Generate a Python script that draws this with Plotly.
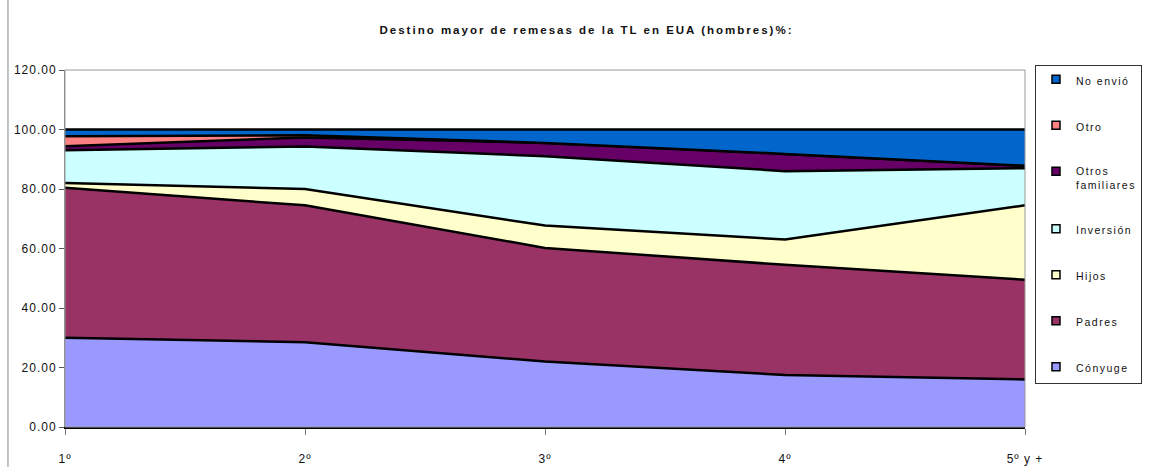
import plotly.graph_objects as go

# Survey wave / remittance period on the x axis
periods = [1, 2, 3, 4, 5]
period_labels = ["1º", "2º", "3º", "4º", "5º y +"]

# Share (%) of main remittance destination, stacked bottom to top
conyuge = [30.0, 28.5, 22.0, 17.5, 16.0]
padres = [50.4, 46.0, 38.2, 37.0, 33.5]
hijos = [1.6, 5.5, 7.5, 8.5, 25.0]
inversion = [11.0, 14.3, 23.3, 23.0, 12.5]
otros_familiares = [1.4, 3.0, 4.5, 5.8, 0.8]
otro = [3.3, 0.8, 0.0, 0.0, 0.0]
no_envio = [2.3, 1.9, 4.5, 8.2, 12.2]

y_ticks = [0, 20, 40, 60, 80, 100, 120]

series = [
    ("Cónyuge", conyuge, "#9999FF"),
    ("Padres", padres, "#993366"),
    ("Hijos", hijos, "#FFFFCC"),
    ("Inversión", inversion, "#CCFFFF"),
    ("Otros<br>familiares", otros_familiares, "#660066"),
    ("Otro", otro, "#FF8080"),
    ("No envió", no_envio, "#0066CC"),
]

FONT = "Liberation Sans, Arial, sans-serif"

fig = go.Figure()
n = len(series)
for i, (name, values, color) in enumerate(series):
    # stacked band
    fig.add_trace(go.Scatter(
        x=periods, y=values, name=name, mode="lines",
        stackgroup="one", fillcolor=color,
        line=dict(color="black", width=2.5),
        showlegend=False, hoverinfo="x+y+name",
    ))
    # legend key: small square swatch with black outline
    fig.add_trace(go.Scatter(
        x=[None], y=[None], name=name, mode="markers",
        marker=dict(symbol="square", size=8, color=color,
                    line=dict(color="black", width=1.5)),
        legendgroup=name, legendrank=n - i, showlegend=True,
    ))

fig.update_layout(
    width=1150, height=467,
    margin=dict(l=65, r=125, t=70, b=40, autoexpand=False),
    paper_bgcolor="white", plot_bgcolor="white",
    font=dict(family=FONT, color="#111111"),
    title=dict(
        text="<b>Destino mayor de remesas de la TL en EUA (hombres)%:</b>",
        x=0.51, xref="container", xanchor="center",
        y=0.935, yref="container", yanchor="middle",
        font=dict(size=11.5, family=FONT, color="#111111"),
    ),
    showlegend=True,
    legend=dict(
        x=1.0104, xanchor="left", y=1.014, yanchor="top",
        traceorder="grouped", tracegroupgap=27, maxheight=440,
        bordercolor="#333333", borderwidth=1, bgcolor="white",
        font=dict(size=10.4, family=FONT, color="#111111"),
        valign="top", itemwidth=30,
    ),
    xaxis=dict(
        range=[1, 5], tickvals=periods, ticktext=period_labels,
        showline=True, linecolor="black", linewidth=2,
        ticks="outside", ticklen=6, tickcolor="#777777",
        showgrid=False, zeroline=False, automargin=False,
        tickfont=dict(size=12, family=FONT, color="#111111"),
        ticklabelstandoff=14,
    ),
    yaxis=dict(
        range=[0, 120], tickvals=y_ticks, tickformat=".2f",
        showline=True, linecolor="#888888", linewidth=1,
        ticks="outside", ticklen=5, tickcolor="#555555",
        showgrid=False, zeroline=False, automargin=False,
        tickfont=dict(size=12, family=FONT, color="#111111"),
    ),
    shapes=[
        # grey frame around the plotting area
        dict(type="rect", xref="paper", yref="paper", x0=0, x1=1, y0=0, y1=1,
             line=dict(color="#999999", width=1), fillcolor="rgba(0,0,0,0)",
             layer="above"),
        # outer chart frame (left edge)
        dict(type="line", xref="paper", yref="paper", x0=-0.0594, x1=-0.0594,
             y0=-0.2, y1=1.3, line=dict(color="#888888", width=1)),
    ],
)

# Widen letter spacing of all chart text; re-apply the legend font so the
# legend box is re-measured with the wider text
post = """
var gd = document.getElementById('{plot_id}');
var st = document.createElement('style');
st.textContent = 'text{letter-spacing:1px} text.gtitle{letter-spacing:2px} text.legendtext{letter-spacing:1.5px}';
document.head.appendChild(st);
return Plotly.relayout(gd, {'legend.font.size': 10.5});
"""

fig.write_html("out.html", post_script=post)
